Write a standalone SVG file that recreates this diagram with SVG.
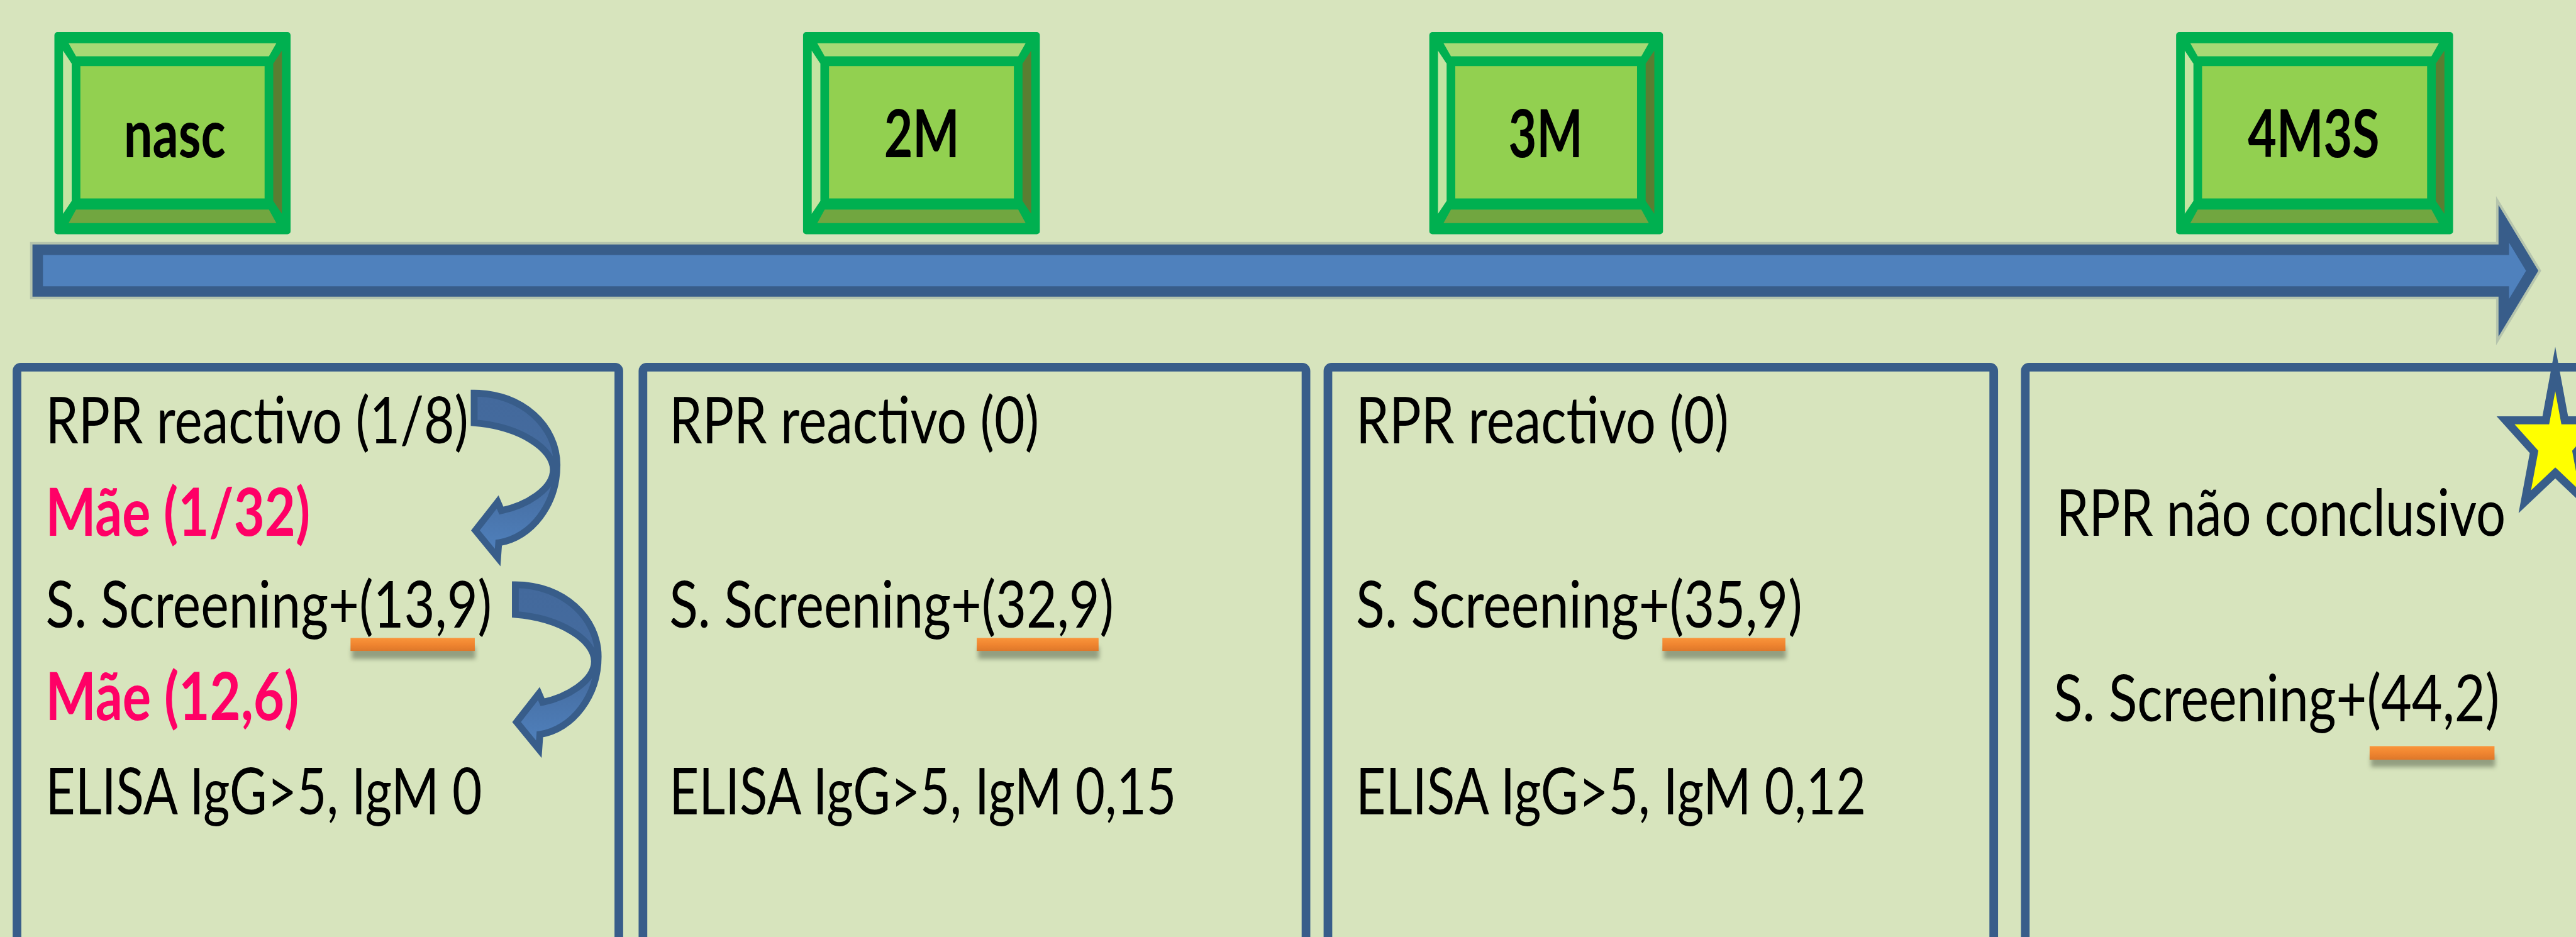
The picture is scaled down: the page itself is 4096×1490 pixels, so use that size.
<svg xmlns="http://www.w3.org/2000/svg" width="4096" height="1490" viewBox="0 0 4096 1490">
<defs>
<style>
.bg{fill:#D7E4BD}
.bo{fill:#00B050}
.bt{fill:#A6D975}
.bl{fill:#C4E4A2}
.br{fill:#5A7E32}
.bb{fill:#71A640}
.bf{fill:#92D050}
.lbl{font-family:Lato,'Liberation Sans',sans-serif;font-weight:bold;font-size:108px;fill:#000;text-anchor:middle}
.txt{font-family:Lato,'Liberation Sans',sans-serif;font-size:105px;fill:#000}
.mae{font-family:Lato,'Liberation Sans',sans-serif;font-weight:bold;font-size:107px;fill:#FF0066}
.panel{fill:none;stroke:#385D8A;stroke-width:14}
.ul{fill:url(#ulg)}
.uls{fill:#5C6650;opacity:0.55;filter:url(#blur)}
.carrow{fill:url(#cag);stroke:#385D8A;stroke-width:11;stroke-linejoin:miter}
</style>
<linearGradient id="ulg" x1="0" y1="0" x2="0" y2="1">
<stop offset="0" stop-color="#F9953B"/>
<stop offset="0.5" stop-color="#F08530"/>
<stop offset="1" stop-color="#DD772A"/>
</linearGradient>
<linearGradient id="cag" x1="0" y1="0" x2="0" y2="1">
<stop offset="0" stop-color="#43699C"/>
<stop offset="0.55" stop-color="#456C9F"/>
<stop offset="1" stop-color="#5082BF"/>
</linearGradient>
<filter id="blur" x="-20%" y="-100%" width="140%" height="300%">
<feGaussianBlur stdDeviation="4"/>
</filter>
<path id="curv" d="M767,636 C845,636 901,690 901,752 C901,815 860,870 806.7,878 L805,902 L769,858 L805,812 L811,826 C850,818 895,792 895,760 C895,725 840,690 767,684 Z"/>
</defs>
<rect class="bg" x="0" y="0" width="4096" height="1490"/>
<g transform="scale(0.983)">
<g id="timeline">
<path d="M61,404 L4050,404 L4050,362 L4096,438 L4050,514 L4050,471.5 L61,471.5 Z" fill="none" stroke="#AEBDA9" stroke-width="25" stroke-linejoin="miter" opacity="0.8"/>
<path d="M61,404 L4050,404 L4050,362 L4096,438 L4050,514 L4050,471.5 L61,471.5 Z" fill="#4F81BD" stroke="#385D8A" stroke-width="17" stroke-linejoin="miter"/>
</g>
<g id="node-nasc">
<rect class="bo" x="88" y="52" width="382" height="327" rx="5"/>
<polygon class="bt" points="111,70 447,70 435,91 123,91"/>
<polygon class="bl" points="102,82 116,103 116,325 102,346"/>
<polygon class="br" points="456,82 442,103 442,325 456,346"/>
<polygon class="bb" points="123,339 435,339 447,361 111,361"/>
<rect class="bf" x="130" y="107" width="298" height="214"/>
<text class="lbl" transform="translate(282.5,254) scale(0.8,1)" textLength="206" lengthAdjust="spacingAndGlyphs">nasc</text>
</g>
<g id="node-2M">
<rect class="bo" x="1299" y="52" width="383" height="327" rx="5"/>
<polygon class="bt" points="1322,70 1659,70 1647,91 1334,91"/>
<polygon class="bl" points="1313,82 1327,103 1327,325 1313,346"/>
<polygon class="br" points="1668,82 1654,103 1654,325 1668,346"/>
<polygon class="bb" points="1334,339 1647,339 1659,361 1322,361"/>
<rect class="bf" x="1341" y="107" width="299" height="214"/>
<text class="lbl" transform="translate(1491,254) scale(0.8,1)" textLength="152.5" lengthAdjust="spacingAndGlyphs">2M</text>
</g>
<g id="node-3M">
<rect class="bo" x="2312" y="52" width="378" height="327" rx="5"/>
<polygon class="bt" points="2335,70 2667,70 2655,91 2347,91"/>
<polygon class="bl" points="2326,82 2340,103 2340,325 2326,346"/>
<polygon class="br" points="2676,82 2662,103 2662,325 2676,346"/>
<polygon class="bb" points="2347,339 2655,339 2667,361 2335,361"/>
<rect class="bf" x="2354" y="107" width="294" height="214"/>
<text class="lbl" transform="translate(2500,254) scale(0.8,1)" textLength="150" lengthAdjust="spacingAndGlyphs">3M</text>
</g>
<g id="node-4M3S">
<rect class="bo" x="3520" y="52" width="448" height="327" rx="5"/>
<polygon class="bt" points="3543,70 3945,70 3933,91 3555,91"/>
<polygon class="bl" points="3534,82 3548,103 3548,325 3534,346"/>
<polygon class="br" points="3954,82 3940,103 3940,325 3954,346"/>
<polygon class="bb" points="3555,339 3933,339 3945,361 3543,361"/>
<rect class="bf" x="3562" y="107" width="364" height="214"/>
<text class="lbl" transform="translate(3742.5,254) scale(0.8,1)" textLength="266" lengthAdjust="spacingAndGlyphs">4M3S</text>
</g>
<g id="panel-1">
<rect class="panel" x="27.5" y="594" width="973.5" height="1100" rx="6"/>
<text class="txt" transform="translate(73.7,717) scale(0.8,1)" textLength="855" lengthAdjust="spacingAndGlyphs">RPR reactivo (1/8)</text>
<text class="mae" transform="translate(73.7,866.5) scale(0.8,1)" textLength="535" lengthAdjust="spacingAndGlyphs">Mãe (1/32)</text>
<text class="txt" transform="translate(73.7,1015.7) scale(0.8,1)" textLength="902.5" lengthAdjust="spacingAndGlyphs">S. Screening+(13,9)</text>
<rect class="uls" x="569" y="1046" width="200" height="20"/>
<rect class="ul" x="567" y="1032" width="201" height="21"/>
<text class="mae" transform="translate(73.7,1165) scale(0.8,1)" textLength="512.5" lengthAdjust="spacingAndGlyphs">Mãe (12,6)</text>
<text class="txt" transform="translate(73.7,1317.4) scale(0.8,1)" textLength="882.5" lengthAdjust="spacingAndGlyphs">ELISA IgG&gt;5, IgM 0</text>
</g>
<g id="panel-2">
<rect class="panel" x="1040" y="594" width="1072.5" height="1100" rx="6"/>
<text class="txt" transform="translate(1082.6,717) scale(0.8,1)" textLength="747.5" lengthAdjust="spacingAndGlyphs">RPR reactivo (0)</text>
<text class="txt" transform="translate(1082.6,1015.7) scale(0.8,1)" textLength="898.75" lengthAdjust="spacingAndGlyphs">S. Screening+(32,9)</text>
<rect class="uls" x="1582" y="1046" width="196" height="20"/>
<rect class="ul" x="1580" y="1032" width="197" height="21"/>
<text class="txt" transform="translate(1082.6,1317.4) scale(0.8,1)" textLength="1025" lengthAdjust="spacingAndGlyphs">ELISA IgG&gt;5, IgM 0,15</text>
</g>
<g id="panel-3">
<rect class="panel" x="2148" y="594" width="1077" height="1100" rx="6"/>
<text class="txt" transform="translate(2193.4,717) scale(0.8,1)" textLength="753.75" lengthAdjust="spacingAndGlyphs">RPR reactivo (0)</text>
<text class="txt" transform="translate(2193.4,1015.7) scale(0.8,1)" textLength="902.5" lengthAdjust="spacingAndGlyphs">S. Screening+(35,9)</text>
<rect class="uls" x="2691" y="1046" width="198" height="20"/>
<rect class="ul" x="2689" y="1032" width="199" height="21"/>
<text class="txt" transform="translate(2193.4,1317.4) scale(0.8,1)" textLength="1031.25" lengthAdjust="spacingAndGlyphs">ELISA IgG&gt;5, IgM 0,12</text>
</g>
<g id="panel-4">
<rect class="panel" x="3276" y="594" width="1100" height="1100" rx="6"/>
<text class="txt" transform="translate(3326,866.5) scale(0.8,1)" textLength="908.75" lengthAdjust="spacingAndGlyphs">RPR não conclusivo</text>
<text class="txt" transform="translate(3322,1167) scale(0.8,1)" textLength="901.25" lengthAdjust="spacingAndGlyphs">S. Screening+(44,2)</text>
<rect class="uls" x="3835" y="1221" width="201" height="20"/>
<rect class="ul" x="3833" y="1207" width="202" height="22"/>
</g>
<g id="star">
<polygon points="4133.3,597 4148.6,680 4213.6,680 4167.6,731 4182.6,811.7 4133.3,765 4084,811.7 4099,731 4053,680 4118,680" fill="#FFFF00" stroke="#385D8A" stroke-width="13" stroke-linejoin="miter" stroke-miterlimit="10"/>
</g>
<g id="connectors">
<use href="#curv" class="carrow"/>
<use href="#curv" class="carrow" transform="translate(66.6,310)"/>
</g>
</g>
</svg>
